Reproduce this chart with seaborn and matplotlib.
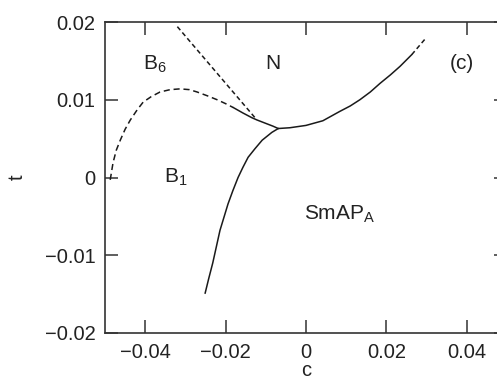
import matplotlib
matplotlib.use("Agg")
import matplotlib.pyplot as plt
import seaborn as sns

# phase boundaries, (c, t)
b1_b6_c = [-0.0487, -0.0480, -0.0472, -0.0462, -0.0450, -0.0437, -0.0420, -0.0405,
           -0.0385, -0.0363, -0.0338, -0.0313, -0.0290, -0.0271, -0.0245, -0.0221,
           -0.0200, -0.0181]
b1_b6_t = [-0.0003, 0.0019, 0.0035, 0.0048, 0.0062, 0.0074, 0.0087, 0.0097,
           0.0104, 0.0110, 0.0113, 0.0114, 0.0113, 0.0110, 0.0105, 0.0100,
           0.0095, 0.0090]

b1_n_c = [-0.0181, -0.0157, -0.0135, -0.0122, -0.0097, -0.0082, -0.0069]
b1_n_t = [0.0090, 0.0083, 0.0077, 0.0074, 0.0069, 0.0066, 0.0063]

b6_n_c = [-0.0320, -0.0127]
b6_n_t = [0.0194, 0.0077]

n_sm_c = [-0.0069, -0.0040, 0.0000, 0.0042, 0.0084, 0.0110, 0.0134, 0.0160,
          0.0184, 0.0210, 0.0234, 0.0263]
n_sm_t = [0.0063, 0.0064, 0.0067, 0.0073, 0.0085, 0.0092, 0.0100, 0.0110,
          0.0121, 0.0132, 0.0143, 0.0158]

n_sm_ext_c = [0.0263, 0.0296]
n_sm_ext_t = [0.0158, 0.0178]

b1_sm_c = [-0.0069, -0.0085, -0.0109, -0.0127, -0.0144, -0.0157, -0.0169, -0.0182,
           -0.0194, -0.0204, -0.0214, -0.0223, -0.0232, -0.0242, -0.0251]
b1_sm_t = [0.0063, 0.0058, 0.0048, 0.0037, 0.0026, 0.0013, 0.0000, -0.0017,
           -0.0034, -0.0051, -0.0068, -0.0089, -0.0110, -0.0130, -0.0149]

xticks = [-0.04, -0.02, 0, 0.02, 0.04]
xtick_labels = ["\u22120.04", "\u22120.02", "0", "0.02", "0.04"]
yticks = [-0.02, -0.01, 0, 0.01, 0.02]
ytick_labels = ["\u22120.02", "\u22120.01", "0", "0.01", "0.02"]

sns.set_style("ticks")
plt.rcParams["font.family"] = ["Liberation Sans", "DejaVu Sans"]
plt.rcParams["mathtext.fontset"] = "custom"
plt.rcParams["mathtext.rm"] = "Liberation Sans"
plt.rcParams["mathtext.it"] = "Liberation Sans"

fig = plt.figure(figsize=(4.97, 3.8), dpi=100)
ax = fig.add_axes([105 / 497, 47 / 380, 402 / 497, 311 / 380])

lw = 1.1
col = "#1a1a1a"
sns.lineplot(x=b1_b6_c, y=b1_b6_t, sort=False, ax=ax, color=col, lw=lw, linestyle=(0, (4, 2.5)))
sns.lineplot(x=b1_n_c, y=b1_n_t, sort=False, ax=ax, color=col, lw=lw)
sns.lineplot(x=b6_n_c, y=b6_n_t, sort=False, ax=ax, color=col, lw=lw, linestyle=(0, (3, 2)))
sns.lineplot(x=n_sm_c, y=n_sm_t, sort=False, ax=ax, color=col, lw=lw)
sns.lineplot(x=n_sm_ext_c, y=n_sm_ext_t, sort=False, ax=ax, color=col, lw=lw, linestyle=(0, (3, 2)))
sns.lineplot(x=b1_sm_c, y=b1_sm_t, sort=False, ax=ax, color=col, lw=lw)

ax.set_xlim(-0.05, 0.05)
ax.set_ylim(-0.02, 0.02)
ax.set_xticks(xticks)
ax.set_xticklabels(xtick_labels)
ax.set_yticks(yticks)
ax.set_yticklabels(ytick_labels)
ax.tick_params(direction="in", length=9.5, width=1.1, color="#333333",
               labelsize=14.5, labelcolor="#222222", pad=7,
               top=True, right=True)

for s in ax.spines.values():
    s.set_visible(True)
    s.set_linewidth(1.2)
    s.set_color("#333333")

ax.set_xlabel("c", fontsize=14.5, color="#222222")
ax.set_ylabel("t", fontsize=14.5, color="#222222")
ax.xaxis.set_label_coords(0.5, -0.09)
ax.yaxis.set_label_coords(-0.194, 0.5)

fs = 15
ax.text(-0.0375, 0.0146, "B$_\\mathregular{6}$", fontsize=fs, ha="center", va="center", color="#222222")
ax.text(-0.0082, 0.0146, "N", fontsize=fs, ha="center", va="center", color="#222222")
ax.text(0.0388, 0.0146, "(c)", fontsize=fs, ha="center", va="center", color="#222222")
ax.text(-0.0325, 0.0000, "B$_\\mathregular{1}$", fontsize=fs, ha="center", va="center", color="#222222")
ax.text(0.0084, -0.0048, "SmAP$_\\mathregular{A}$", fontsize=fs, ha="center", va="center", color="#222222")

fig.savefig("out.png", dpi=100)
